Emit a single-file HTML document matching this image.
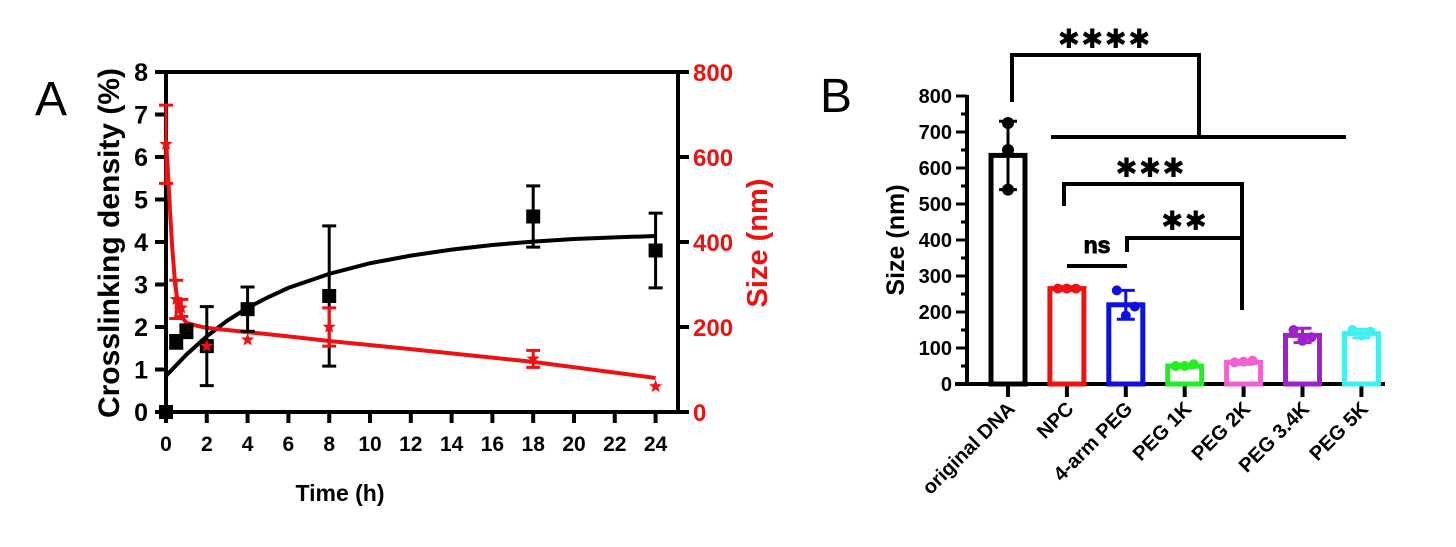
<!DOCTYPE html>
<html><head><meta charset="utf-8"><style>
body{margin:0;background:#fff;}
svg{display:block;font-family:"Liberation Sans",Arial,sans-serif;font-weight:bold;}
</style></head><body>
<svg id="s" width="1456" height="547" viewBox="0 0 1456 547"></svg>
<script>
// Panel A data
const timeTicks=[0,2,4,6,8,10,12,14,16,18,20,22,24];
const leftTicks=[0,1,2,3,4,5,6,7,8];
const rightTicks=[0,200,400,600,800];
const blackT=[0,0.5,1,2,4,8,18,24];
const blackY=[0,1.65,1.9,1.55,2.42,2.73,4.6,3.8];
const blackErr=[0,0.15,0.15,0.93,0.52,1.65,0.72,0.88];
const blackCurveT=[0,1,2,3,4,5,6,8,10,12,14,16,18,20,22,24];
const blackCurveY=[0.85,1.35,1.78,2.15,2.45,2.7,2.92,3.25,3.5,3.68,3.82,3.93,4.01,4.07,4.11,4.14];
const redT=[0,0.5,0.75,2,4,8,18,24];
const redY=[630,265,245,155,170,200,125,60];
const redErr=[92,45,20,0,0,45,20,0];
const redCurveT=[0,0.1,0.2,0.3,0.45,0.6,0.8,1,1.5,2,3,4,6,8,12,18,24];
const redCurveY=[640,560,470,390,300,250,222,210,203,198,193,188,178,167,148,118,80];
// Panel B data
const groups=["original DNA","NPC","4-arm PEG","PEG 1K","PEG 2K","PEG 3.4K","PEG 5K"];
const means=[635,265,220,50,60,135,140];
const errs=[95,5,40,5,5,20,12];
const pts=[[725,650,540],[265,265,265],[260,190,215],[50,50,55],[60,62,65],[150,120,130],[150,135,145]];
const colors=["#000","#ee1111","#1010dd","#22ee22","#f060d0","#a020d0","#40f0f0"];
const bTicks=[0,100,200,300,400,500,600,700,800];

const S=document.getElementById('s');const NS='http://www.w3.org/2000/svg';
function mk(tag,a,p){const e=document.createElementNS(NS,tag);for(const k in a)e.setAttribute(k,a[k]);(p||S).appendChild(e);return e;}
function txt(x,y,t,a){const e=mk('text',Object.assign({x:x,y:y},a||{}));e.textContent=t;return e;}
const xA=t=>166+t*20.4, yL=v=>412-v*42.5, yR=v=>412-v*0.425;
// Panel A
const gA=mk('g',{});
let e=txt(35,115,'A',{'font-size':48,'font-weight':'normal'},gA);
mk('line',{x1:166,y1:72,x2:678,y2:72,stroke:'#000','stroke-width':4},gA);
mk('line',{x1:678,y1:72,x2:678,y2:412,stroke:'#000','stroke-width':4},gA);
mk('line',{x1:166,y1:72,x2:166,y2:414,stroke:'#000','stroke-width':4},gA);
mk('line',{x1:156,y1:412,x2:678,y2:412,stroke:'#000','stroke-width':4},gA);
leftTicks.forEach(v=>{mk('line',{x1:155,y1:yL(v),x2:166,y2:yL(v),stroke:'#000','stroke-width':4},gA);
 const t=txt(148,yL(v)+9,String(v),{'font-size':25,'text-anchor':'end'},gA);});
rightTicks.forEach(v=>{mk('line',{x1:678,y1:yR(v),x2:689,y2:yR(v),stroke:'#000','stroke-width':4},gA);
 const t=txt(693,yR(v)+9,String(v),{'font-size':24,fill:'#e11'},gA);});
timeTicks.forEach(v=>{mk('line',{x1:xA(v),y1:412,x2:xA(v),y2:423,stroke:'#000','stroke-width':4},gA);
 const t=txt(xA(v),451,String(v),{'font-size':21,'text-anchor':'middle'},gA);});
e=txt(340,501,'Time (h)',{'font-size':23,'text-anchor':'middle'},gA);
e=txt(0,0,'Crosslinking density (%)',{'font-size':30,'text-anchor':'middle',transform:'translate(119,243) rotate(-90)'},gA);
e=txt(0,0,'Size (nm)',{'font-size':29,'text-anchor':'middle',fill:'#e11',transform:'translate(767,243) rotate(-90)'},gA);
let d=blackCurveT.map((t,i)=>(i?'L':'M')+xA(t)+' '+yL(blackCurveY[i])).join(' ');
e=mk('path',{d:d,fill:'none',stroke:'#000','stroke-width':4},gA);
d=redCurveT.map((t,i)=>(i?'L':'M')+xA(t)+' '+yR(redCurveY[i])).join(' ');
e=mk('path',{d:d,fill:'none',stroke:'#e11','stroke-width':4},gA);
blackT.forEach((t,i)=>{const x=xA(t),y=yL(blackY[i]);
 if(blackErr[i]>0){const y1=yL(blackY[i]+blackErr[i]),y2=yL(blackY[i]-blackErr[i]);
  mk('path',{d:`M${x} ${y1}V${y2}M${x-7} ${y1}H${x+7}M${x-7} ${y2}H${x+7}`,stroke:'#000','stroke-width':3,fill:'none'},gA);}
 e=mk('rect',{x:x-7,y:y-7,width:14,height:14,fill:'#000'},gA);});
function star(x,y,r,fill,p){let s='';for(let k=0;k<10;k++){const a=-Math.PI/2+k*Math.PI/5,rr=k%2?r*0.42:r;s+=(x+rr*Math.cos(a))+','+(y+rr*Math.sin(a))+' ';}return mk('polygon',{points:s,fill:fill},p);}
redT.forEach((t,i)=>{const x=xA(t),y=yR(redY[i]);
 if(redErr[i]>0){const y1=yR(redY[i]+redErr[i]),y2=yR(redY[i]-redErr[i]);
  mk('path',{d:`M${x} ${y1}V${y2}M${x-7} ${y1}H${x+7}M${x-7} ${y2}H${x+7}`,stroke:'#e11','stroke-width':3,fill:'none'},gA);}
 e=star(x,y,7,'#e11',gA);});

// Panel B
const gB=mk('g',{});
e=txt(820,112,'B',{'font-size':48,'font-weight':'normal'},gB);
const yB=v=>384-v*0.36, xB=i=>1008+i*58.9;
mk('line',{x1:967,y1:95,x2:967,y2:386,stroke:'#000','stroke-width':4},gB);
mk('line',{x1:955,y1:384,x2:1385,y2:384,stroke:'#000','stroke-width':4},gB);
for(let v=0;v<=800;v+=50){mk('line',{x1:v%100?961:956,y1:yB(v),x2:967,y2:yB(v),stroke:'#000','stroke-width':3},gB);}
bTicks.forEach(v=>{const t=txt(952,yB(v)+7,String(v),{'font-size':20,'text-anchor':'end'},gB);});
e=txt(0,0,'Size (nm)',{'font-size':25,'text-anchor':'middle',transform:'translate(904,240) rotate(-90)'},gB);
groups.forEach((g,i)=>{const x=xB(i),c=colors[i];
 mk('line',{x1:x,y1:384,x2:x,y2:397,stroke:'#000','stroke-width':4},gB);
 e=mk('rect',{x:x-17,y:yB(means[i]),width:34,height:384-yB(means[i]),fill:'none',stroke:c,'stroke-width':5},gB);
 const y1=yB(means[i]+errs[i]),y2=yB(means[i]-errs[i]);
 mk('path',{d:`M${x} ${y1}V${y2}M${x-9} ${y1}H${x+9}M${x-9} ${y2}H${x+9}`,stroke:c,'stroke-width':3,fill:'none'},gB);
 pts[i].forEach((p,j)=>{const px=x+(j-1)*9;
  if(i==0){mk('circle',{cx:x,cy:yB(p),r:6,fill:c},gB);} else mk('circle',{cx:px,cy:yB(p),r:5,fill:c},gB);});
 const t=txt(0,0,g,{'font-size':20,'text-anchor':'end',transform:`translate(${x+8},410) rotate(-45)`},gB);});
const br=(dd,n)=>{const p=mk('path',{d:dd,stroke:'#000','stroke-width':4,fill:'none'},gB);};
br('M1012 102V55H1199V137M1051 137H1346','bracket-four-star');
br('M1064 206V184H1242V310','bracket-three-star');
br('M1127 252V238H1242','bracket-two-star');
br('M1067 266H1127','bracket-ns');
const sig=(x,y,t,n,sz)=>{const q=txt(x,y,t,{'font-size':sz,'text-anchor':'middle',stroke:'#000','stroke-width':1},gB);};
sig(1104,47,'∗∗∗∗','label-four-star',28);
sig(1150,176,'∗∗∗','label-three-star',28);
sig(1184,229,'∗∗','label-two-star',28);
sig(1097,253,'ns','label-ns',23);
</script>
</body></html>
